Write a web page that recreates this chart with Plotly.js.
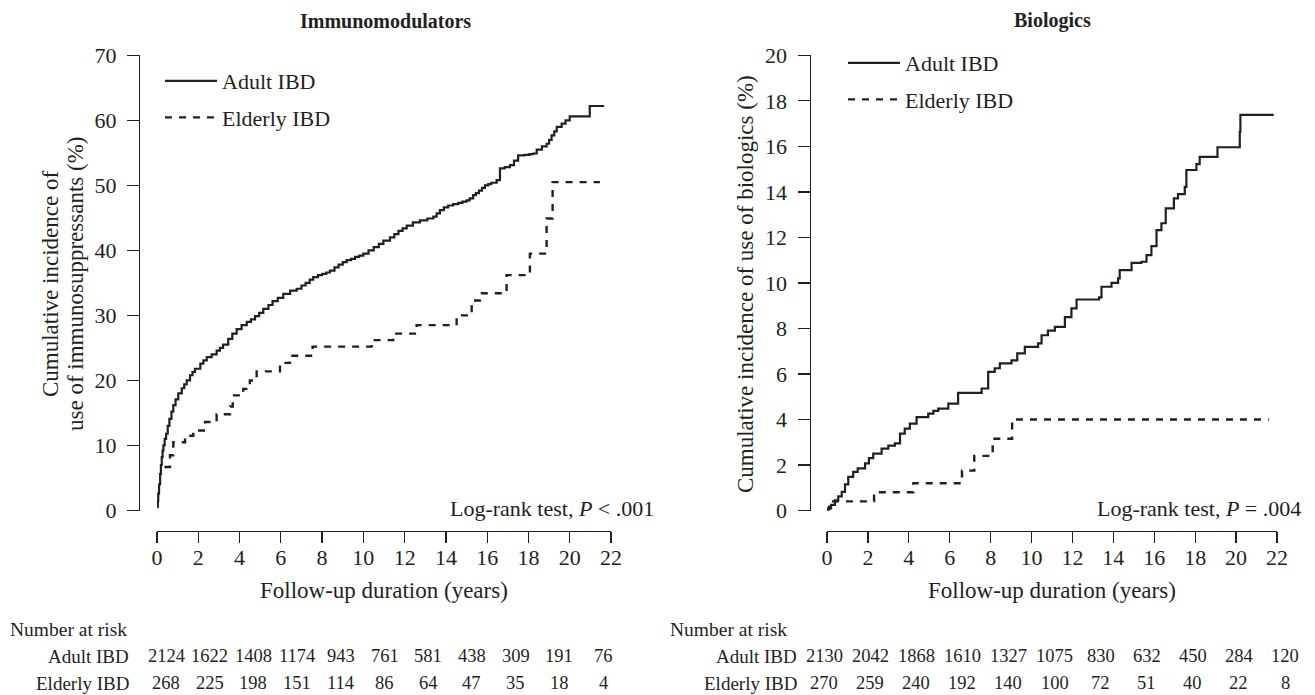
<!DOCTYPE html>
<html>
<head>
<meta charset="utf-8">
<script src="https://cdn.plot.ly/plotly-3.0.1.min.js"></script>
<style>html,body{margin:0;padding:0;background:#fff;}#chart{width:1315px;height:695px;}</style>
</head>
<body>
<div id="chart"></div>
<script>
// ---------- DATA ----------
const seriesNames = ["Adult IBD", "Elderly IBD"];
const panelTitles = ["Immunomodulators", "Biologics"];
const xTicks = [0, 2, 4, 6, 8, 10, 12, 14, 16, 18, 20, 22];

// Immunomodulators – Adult IBD (years, cumulative %)
const immAdultT = [0.02,0.04,0.06,0.1,0.15,0.19,0.23,0.27,0.31,0.37,0.44,0.52,0.6,0.7,0.79,0.9,1.03,1.2,1.32,1.44,1.6,1.72,1.84,2.1,2.25,2.41,2.65,2.89,3.05,3.2,3.45,3.65,3.86,4.1,4.35,4.55,4.75,4.95,5.15,5.4,5.6,5.85,6.12,6.45,6.77,7.0,7.2,7.4,7.57,7.8,8.0,8.2,8.38,8.6,8.8,9.0,9.19,9.4,9.6,9.8,10.0,10.25,10.5,10.75,10.97,11.29,11.5,11.7,11.9,12.1,12.4,12.74,13.1,13.39,13.55,13.71,13.9,14.11,14.35,14.6,14.8,15.0,15.15,15.32,15.45,15.6,15.75,15.89,16.05,16.2,16.46,16.62,16.85,17.1,17.3,17.5,17.8,18.05,18.23,18.4,18.65,18.88,19.0,19.12,19.25,19.37,19.61,19.8,20.0,20.97,21.67];
const immAdultV = [0.5,1.5,2.6,4,5.6,7,8.2,9.2,10,11,11.8,13,14.1,15.2,16.2,17.1,18,18.8,19.4,20,20.8,21.3,21.8,22.6,23.1,23.6,24,24.6,25,25.5,26.4,27.2,27.9,28.5,29,29.4,29.9,30.4,31,31.6,32.2,32.7,33.3,33.8,34.1,34.6,35,35.5,35.9,36.2,36.4,36.6,36.9,37.4,37.8,38.2,38.5,38.7,39,39.2,39.5,40,40.5,41,41.5,42,42.5,43,43.4,43.8,44.3,44.6,44.9,45.2,45.7,46.2,46.6,46.9,47.1,47.3,47.5,47.7,48,48.5,48.8,49.2,49.6,50,50.2,50.4,50.8,52.6,52.8,53.1,53.8,54.6,54.7,54.8,54.9,55.5,56,56.4,57,57.7,58.3,59,59.5,60,60.6,62.2,62.2];

// Immunomodulators – Elderly IBD
const immElderT = [0.36,0.63,0.79,1.36,1.76,2.33,2.89,3.54,3.67,4.18,4.5,4.83,5.96,6.44,7.54,10.4,11.45,12.58,14.52,15.25,15.65,16.94,18.07,18.88,19.17,21.46];
const immElderV = [6.7,8.5,10.5,11.5,12.3,13.6,14.8,16,17.7,18.7,20,21.4,22.7,23.8,25.2,26.2,27.2,28.5,30,32.3,33.4,36.2,39.5,44.9,50.5,50.5];

// Biologics – Adult IBD
const bioAdultT = [0,0.06,0.2,0.39,0.55,0.72,0.88,1.04,1.28,1.5,1.86,2.05,2.26,2.67,3.0,3.32,3.57,3.8,4.05,4.38,4.95,5.2,5.44,5.93,6.41,7.07,7.56,7.88,8.2,8.45,9.02,9.3,9.67,10.32,10.49,10.8,11.14,11.63,11.95,12.2,13.3,13.42,13.91,14.23,14.31,14.89,15.37,15.62,15.86,16.11,16.35,16.56,16.96,17.16,17.49,17.57,18.06,18.22,19.09,20.18,20.21,21.84];
const bioAdultV = [0,0.09,0.25,0.45,0.62,0.82,1.15,1.48,1.7,1.85,2.07,2.3,2.5,2.72,2.85,2.95,3.38,3.6,3.82,4.1,4.26,4.38,4.48,4.7,5.17,5.17,5.36,6.09,6.25,6.46,6.6,6.9,7.19,7.34,7.7,7.9,8.07,8.5,8.88,9.27,9.36,9.83,10.0,10.2,10.56,10.88,10.93,11.22,11.62,12.32,12.62,13.27,13.71,13.9,14.22,14.96,15.22,15.54,15.96,16.64,17.38,17.38];

// Biologics – Elderly IBD
const bioElderT = [0,0.1,2.3,4.22,6.6,7.2,8.1,9.05,21.6];
const bioElderV = [0,0.4,0.8,1.2,1.75,2.4,3.15,4.0,4.0];

// Number at risk
const riskTimes = [0,2,4,6,8,10,12,14,16,18,20];
const immAdultRisk = [2124,1622,1408,1174,943,761,581,438,309,191,76];
const immElderRisk = [268,225,198,151,114,86,64,47,35,18,4];
const bioAdultRisk = [2130,2042,1868,1610,1327,1075,830,632,450,284,120];
const bioElderRisk = [270,259,240,192,140,100,72,51,40,22,8];

const pLabels = ["Log-rank test, <i>P</i> &lt; .001", "Log-rank test, <i>P</i> = .004"];
const yTitleImm = ["Cumulative incidence of", "use of immunosuppressants (%)"];
const yTitleBio = "Cumulative incidence of use of biologics (%)";
const xTitle = "Follow-up duration (years)";

// ---------- LAYOUT HELPERS ----------
const W = 1315, H = 695;
const px = p => p / W;
const py = p => 1 - p / H;
const INK = "#231f20";
const FONT = "Liberation Serif, 'Times New Roman', serif";

const lineSolid = {color: INK, width: 2.2, shape: "hv"};
const lineDash = {color: INK, width: 2.4, shape: "hv", dash: "7px,7px"};

const traces = [
  {x: immAdultT, y: immAdultV, name: seriesNames[0], xaxis: "x", yaxis: "y", mode: "lines", line: lineSolid, legend: "legend", legendgroup: "a"},
  {x: immElderT, y: immElderV, name: seriesNames[1], xaxis: "x", yaxis: "y", mode: "lines", line: lineDash, legend: "legend", legendgroup: "b"},
  {x: bioAdultT, y: bioAdultV, name: seriesNames[0], xaxis: "x2", yaxis: "y2", mode: "lines", line: lineSolid, legend: "legend2", legendgroup: "c"},
  {x: bioElderT, y: bioElderV, name: seriesNames[1], xaxis: "x2", yaxis: "y2", mode: "lines", line: lineDash, legend: "legend2", legendgroup: "d"}
];

const yDomain = [py(510.5), py(55.3)];
const xAxisY = py(531);

function xAxis(dom) {
  return {domain: dom, range: [0, 22], anchor: "free", position: xAxisY,
    tickvals: xTicks, ticks: "outside", ticklen: 11, tickwidth: 1.3, tickcolor: INK,
    showline: true, linewidth: 1.3, linecolor: INK, showgrid: false, zeroline: false,
    tickfont: {family: FONT, size: 22, color: INK}, ticklabelstandoff: -5, fixedrange: true};
}
function yAxis(pos, range, dtick) {
  return {domain: yDomain, range: range, dtick: dtick, anchor: "free", position: pos,
    ticks: "outside", ticklen: 12, tickwidth: 1.3, tickcolor: INK,
    showline: true, linewidth: 1.3, linecolor: INK, showgrid: false, zeroline: false,
    tickfont: {family: FONT, size: 22, color: INK}, ticklabelstandoff: 6, fixedrange: true};
}

const f = size => ({family: FONT, size: size, color: INK});
const txt = (text, x, y, opts) => Object.assign({text: text, x: x, y: y, xref: "paper", yref: "paper",
  showarrow: false, font: f(23), xanchor: "center", yanchor: "middle"}, opts || {});

const annotations = [
  txt("<b>" + panelTitles[0] + "</b>", px(385), py(21), {font: f(20)}),
  txt("<b>" + panelTitles[1] + "</b>", px(1052), py(21), {font: f(20)}),
  txt(xTitle, px(384), py(590)),
  txt(xTitle, px(1052), py(590)),
  txt(yTitleImm[0], px(50), py(284), {textangle: -90}),
  txt(yTitleImm[1], px(75), py(284), {textangle: -90}),
  txt(yTitleBio, px(745), py(284), {textangle: -90}),
  txt(pLabels[0], px(656), py(508), {xanchor: "right", font: f(22)}),
  txt(pLabels[1], px(1303), py(508), {xanchor: "right", font: f(22)}),
  txt("Number at risk", px(8), py(629), {xanchor: "left", font: f(19.5)}),
  txt("Number at risk", px(668), py(629), {xanchor: "left", font: f(19.5)}),
  txt(seriesNames[0], px(131), py(656), {xanchor: "right", font: f(19)}),
  txt(seriesNames[1], px(131), py(683), {xanchor: "right", font: f(19)}),
  txt(seriesNames[0], px(799), py(656), {xanchor: "right", font: f(19)}),
  txt(seriesNames[1], px(799), py(683), {xanchor: "right", font: f(19)})
];

// risk-table columns: one per reported time point, typeset evenly across the panel
function riskRow(values, firstPx, stepPx, y) {
  riskTimes.forEach((t, i) => {
    annotations.push(txt(String(values[i]), px(firstPx + (t / 2) * stepPx), y, {font: f(18.5)}));
  });
}
riskRow(immAdultRisk, 166, 43.7, py(656));
riskRow(immElderRisk, 166, 43.7, py(683));
riskRow(bioAdultRisk, 824, 46.1, py(656));
riskRow(bioElderRisk, 824, 46.1, py(683));

const legendBase = {xanchor: "left", yanchor: "top", bgcolor: "rgba(0,0,0,0)", borderwidth: 0,
  font: f(22), tracegroupgap: 5, itemwidth: 52, traceorder: "grouped"};

const layout = {
  width: W, height: H, margin: {l: 0, r: 0, t: 0, b: 0},
  paper_bgcolor: "#ffffff", plot_bgcolor: "#ffffff",
  font: {family: FONT, color: INK},
  xaxis: xAxis([px(157), px(611)]),
  yaxis: yAxis(px(139), [0, 70], 10),
  xaxis2: xAxis([px(827), px(1277)]),
  yaxis2: yAxis(px(809.5), [0, 20], 2),
  legend: Object.assign({x: px(160), y: py(60)}, legendBase),
  legend2: Object.assign({x: px(843), y: py(42)}, legendBase),
  showlegend: true,
  annotations: annotations
};

Plotly.newPlot("chart", traces, layout, {displayModeBar: false, staticPlot: true});
</script>
</body>
</html>
